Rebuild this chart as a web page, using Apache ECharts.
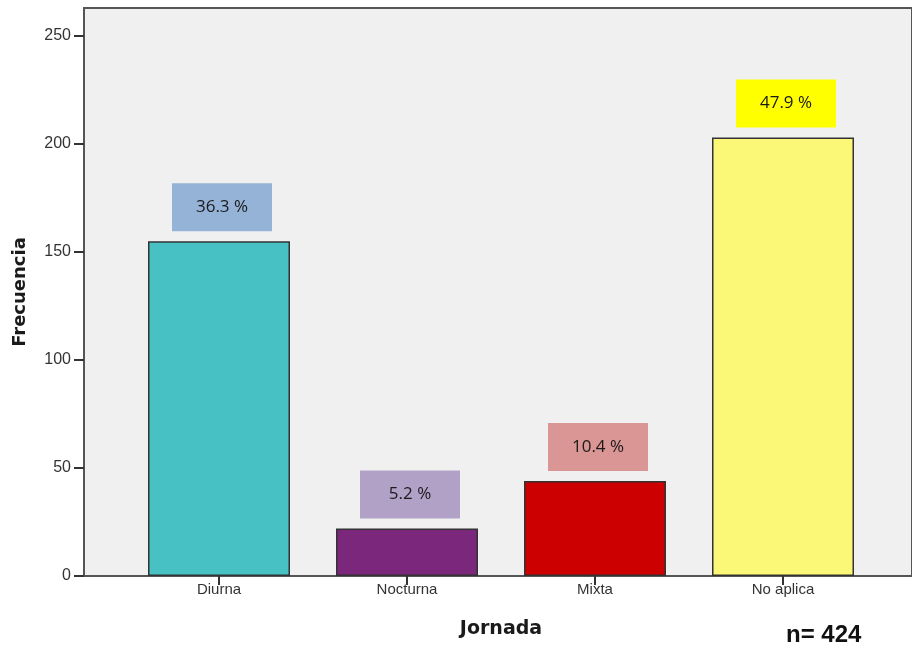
<!DOCTYPE html>
<html>
<head>
<meta charset="utf-8">
<script src="https://cdn.jsdelivr.net/npm/echarts@6/dist/echarts.min.js"></script>
<style>
html,body{margin:0;padding:0;background:#fff;}
#main{width:912px;height:651px;}
</style>
</head>
<body>
<div id="main"></div>
<script>
// ---- data ----
var categories = ['Diurna', 'Nocturna', 'Mixta', 'No aplica'];
var counts = [155, 22, 44, 203];
var percentLabels = ['36.3 %', '5.2 %', '10.4 %', '47.9 %'];
var yTicks = [0, 50, 100, 150, 200, 250];
var yMax = 263;
var sampleNote = 'n= 424';

// ---- styles ----
var barColors = ['#47c1c4', '#7b277b', '#cc0000', '#fbf877'];
var boxColors = ['#95b3d7', '#b2a1c7', '#da9694', '#ffff00'];

var chart = echarts.init(document.getElementById('main'));

var seriesData = counts.map(function (v, i) {
  return {
    value: v,
    itemStyle: { color: barColors[i] },
    label: { backgroundColor: boxColors[i], formatter: percentLabels[i] }
  };
});

var option = {
  animation: false,
  backgroundColor: '#ffffff',
  grid: [
    { left: 84, right: -3, top: 8, bottom: 75, show: true, backgroundColor: '#f0f0f0', borderColor: '#555555', borderWidth: 2, z: 0 },
    { left: 125, right: 35, top: 8, bottom: 75 }
  ],
  xAxis: [
    { gridIndex: 0, type: 'value', show: false },
    {
      gridIndex: 1, type: 'category', data: categories,
      axisLine: { show: false },
      axisTick: { show: true, alignWithLabel: true, length: 9, lineStyle: { color: '#333', width: 2 } },
      axisLabel: { color: '#333', fontSize: 15, fontFamily: 'Liberation Sans, Arial, sans-serif', margin: 6 },
      name: 'Jornada', nameLocation: 'middle', nameGap: 44,
      nameTextStyle: { fontFamily: 'DejaVu Sans', fontWeight: 'bold', fontSize: 19, color: '#1a1a1a' }
    }
  ],
  yAxis: [
    {
      gridIndex: 0, type: 'value', min: 0, max: yMax, interval: 50,
      axisLine: { show: false },
      axisTick: { show: true, length: 10, customValues: yTicks, lineStyle: { color: '#333', width: 2 } },
      axisLabel: { color: '#333', fontSize: 16, fontFamily: 'Liberation Sans, Arial, sans-serif', margin: 13, customValues: yTicks },
      splitLine: { show: false },
      name: 'Frecuencia', nameLocation: 'middle', nameGap: 55,
      nameTextStyle: { fontFamily: 'DejaVu Sans', fontWeight: 'bold', fontSize: 18, color: '#1a1a1a' }
    },
    { gridIndex: 1, type: 'value', min: 0, max: yMax, show: false }
  ],
  series: [
    {
      type: 'bar',
      xAxisIndex: 1, yAxisIndex: 1,
      barWidth: 142,
      data: seriesData,
      itemStyle: { borderColor: '#333333', borderWidth: 1.5 },
      label: {
        show: true, position: 'top', distance: 10, offset: [3, 0],
        width: 100, height: 48, lineHeight: 48, align: 'center',
        color: '#1a1a1a', fontSize: 17, fontFamily: 'Open Sans, Noto Sans, sans-serif'
      },
      z: 3
    }
  ],
  graphic: [
    {
      type: 'text', left: 786, top: 623,
      style: { text: sampleNote, fontFamily: 'Liberation Sans, Arial, sans-serif', fontWeight: 'bold', fontSize: 24, fill: '#111' }
    }
  ]
};
chart.setOption(option);
</script>
</body>
</html>
